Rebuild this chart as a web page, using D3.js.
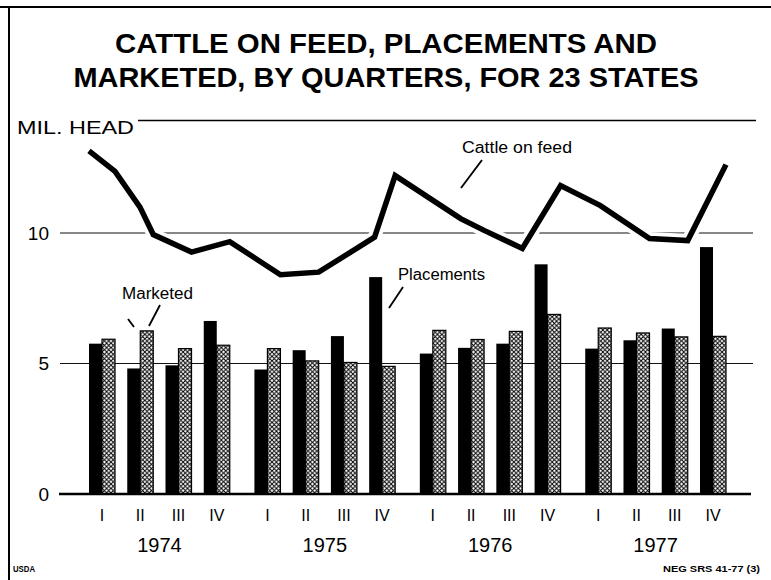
<!DOCTYPE html>
<html>
<head>
<meta charset="utf-8">
<script src="https://cdn.jsdelivr.net/npm/d3@7"></script>
<style>
  html, body { margin: 0; padding: 0; background: #fff; }
  svg { display: block; font-family: "Liberation Sans", Arial, Helvetica, sans-serif; }
</style>
</head>
<body>
<svg id="chart" width="771" height="580"></svg>
<script>
// ---------------- data ----------------
const years = ["1974", "1975", "1976", "1977"];
const quarters = ["I", "II", "III", "IV"];
const seriesKeys = ["Placements", "Marketed"];
// million head, by quarter (1974 I ... 1977 IV)
const placements = [5.76, 4.81, 4.93, 6.63, 4.77, 5.51, 6.05, 8.31, 5.38, 5.60, 5.76, 8.80, 5.57, 5.89, 6.34, 9.46];
const marketed   = [5.93, 6.25, 5.57, 5.70, 5.57, 5.10, 5.04, 4.89, 6.27, 5.92, 6.23, 6.88, 6.36, 6.17, 6.02, 6.04];
// cattle on feed line, read at its drawn vertices
const feedDates  = ["1974-01-01", "1974-03-31", "1974-05-15", "1974-06-30", "1974-09-30", "1974-12-31",
                    "1975-03-31", "1975-06-30", "1975-10-20", "1975-12-31",
                    "1976-04-10", "1976-06-30", "1976-09-30", "1976-12-31",
                    "1977-02-22", "1977-06-30", "1977-09-30", "1977-12-31"];
const feedValues = [13.15, 12.36, 10.99, 9.94, 9.27, 9.67,
                    8.40, 8.50, 9.84, 12.20,
                    10.55, 10.10, 9.41, 11.82,
                    11.05, 9.79, 9.71, 12.62];
const yTicks = [0, 5, 10];
const titleLines = ["CATTLE ON FEED, PLACEMENTS AND", "MARKETED, BY QUARTERS, FOR 23 STATES"];
const unitLabel = "MIL. HEAD";

// ---------------- build ----------------
const barData = years.flatMap((yr, i) => quarters.map((q, j) => ({
  year: yr, quarter: q, Placements: placements[i * 4 + j], Marketed: marketed[i * 4 + j]
})));
const feedData = feedDates.map((d, i) => ({ date: new Date(d + "T00:00:00"), value: feedValues[i] }));

const svg = d3.select("#chart");
const FONT = '"Liberation Sans", Arial, Helvetica, sans-serif';

// scales
const y = d3.scaleLinear().domain([0, 10]).range([494, 233]);
const xYear = d3.scaleBand().domain(years).range([89, 726]).paddingInner(0.149).paddingOuter(0);
const xQuarter = d3.scaleBand().domain(quarters).range([0, xYear.bandwidth()]).paddingInner(0.32).paddingOuter(0);
const xSeries = d3.scaleBand().domain(seriesKeys).range([0, xQuarter.bandwidth()]);

function xDate(d) {
  const yr = d.getFullYear();
  const qi = Math.floor(d.getMonth() / 3);
  const qs = new Date(yr, qi * 3, 1);
  const qe = new Date(yr, qi * 3 + 3, 0);
  const f = (d - qs) / (qe - qs);
  return xYear(String(yr)) + xQuarter(quarters[qi]) + f * xQuarter.bandwidth();
}

// pattern for marketed bars
const defs = svg.append("defs");
const pat = defs.append("pattern").attr("id", "xhatch")
  .attr("patternUnits", "userSpaceOnUse").attr("width", 4.4).attr("height", 4.4);
pat.append("rect").attr("width", 4.4).attr("height", 4.4).attr("fill", "#fff");
pat.append("path").attr("d", "M0,0L4.4,4.4M0,4.4L4.4,0").attr("stroke", "#000").attr("stroke-width", 1.0);

// frame
svg.append("line").attr("x1", 0).attr("x2", 771).attr("y1", 7).attr("y2", 7)
  .attr("stroke", "#000").attr("stroke-width", 2);
svg.append("line").attr("x1", 9).attr("x2", 9).attr("y1", 7).attr("y2", 580)
  .attr("stroke", "#000").attr("stroke-width", 2);

// title
const titleLens = [542, 625];
const titleY = [53, 87];
titleLines.forEach((t, i) => {
  svg.append("text").attr("x", 386).attr("y", titleY[i]).attr("text-anchor", "middle")
    .attr("font-size", 28).attr("font-weight", "bold").attr("fill", "#000")
    .attr("textLength", titleLens[i]).attr("lengthAdjust", "spacingAndGlyphs").text(t);
});

// unit label + header rule
svg.append("text").attr("x", 17).attr("y", 134).attr("font-size", 19).attr("fill", "#000")
  .attr("textLength", 117).attr("lengthAdjust", "spacingAndGlyphs").text(unitLabel);
svg.append("line").attr("x1", 138).attr("x2", 756).attr("y1", 120.5).attr("y2", 120.5)
  .attr("stroke", "#000").attr("stroke-width", 1.4);

// gridlines (non-zero)
svg.append("g").selectAll("line").data(yTicks.filter(d => d !== 0)).join("line")
  .attr("x1", 60).attr("x2", 753).attr("y1", d => y(d)).attr("y2", d => y(d))
  .attr("stroke", "#111").attr("stroke-width", 1.1);

// y axis labels
const yAxis = svg.append("g").attr("transform", "translate(60,0)")
  .call(d3.axisLeft(y).tickValues(yTicks).tickSize(0).tickPadding(11).tickFormat(d3.format("d")));
yAxis.select(".domain").remove();
yAxis.selectAll("text").attr("font-size", 19).attr("font-family", FONT).attr("fill", "#000");

// bars
const groups = svg.append("g").selectAll("g").data(barData).join("g")
  .attr("transform", d => `translate(${xYear(d.year) + xQuarter(d.quarter)},0)`);
groups.selectAll("rect").data(d => seriesKeys.map(k => ({ key: k, value: d[k] }))).join("rect")
  .attr("x", d => xSeries(d.key))
  .attr("width", xSeries.bandwidth())
  .attr("y", d => y(d.value))
  .attr("height", d => y(0) - y(d.value))
  .attr("fill", d => d.key === "Placements" ? "#000" : "url(#xhatch)")
  .attr("stroke", "#000")
  .attr("stroke-width", d => d.key === "Placements" ? 0 : 1.2);

// cattle on feed line
const line = d3.line().x(d => xDate(d.date)).y(d => y(d.value));
svg.append("path").datum(feedData).attr("d", line)
  .attr("fill", "none").attr("stroke", "#fff").attr("stroke-width", 13).attr("stroke-linejoin", "round");
svg.append("path").datum(feedData).attr("d", line)
  .attr("fill", "none").attr("stroke", "#000").attr("stroke-width", 5.5)
  .attr("stroke-linejoin", "miter").attr("stroke-miterlimit", 3);

// zero baseline
svg.append("line").attr("x1", 59).attr("x2", 751).attr("y1", y(0)).attr("y2", y(0))
  .attr("stroke", "#000").attr("stroke-width", 2.6);

// quarter labels
years.forEach(yr => {
  const g = svg.append("g").attr("transform", `translate(${xYear(yr)},${y(0)})`)
    .call(d3.axisBottom(xQuarter).tickSize(0));
  g.select(".domain").remove();
  g.selectAll("text").attr("y", 27).attr("dy", 0).attr("font-size", 16)
    .attr("font-family", FONT).attr("fill", "#000");
});
// year labels
const yrAxis = svg.append("g").attr("transform", `translate(0,${y(0)})`)
  .call(d3.axisBottom(xYear).tickSize(0));
yrAxis.select(".domain").remove();
yrAxis.selectAll("text").attr("y", 58).attr("dy", 0).attr("font-size", 20)
  .attr("font-family", FONT).attr("fill", "#000");

// annotations
function note(txt, x, yy, len) {
  svg.append("text").attr("x", x).attr("y", yy).attr("font-size", 16).attr("fill", "#000")
    .attr("textLength", len).attr("lengthAdjust", "spacingAndGlyphs").text(txt);
}
function pointer(x1, y1, x2, y2) {
  svg.append("line").attr("x1", x1).attr("y1", y1).attr("x2", x2).attr("y2", y2)
    .attr("stroke", "#000").attr("stroke-width", 1.8);
}
note("Cattle on feed", 462, 153, 110);
pointer(482, 160, 461, 188);
note("Placements", 398, 280, 87);
pointer(403, 287, 389, 308);
note(seriesKeys[1], 122, 299, 71);
pointer(160, 305, 149, 326);
pointer(128, 319, 134, 327);

// footer
svg.append("text").attr("x", 13).attr("y", 572).attr("font-size", 9).attr("font-weight", "bold")
  .attr("textLength", 22).attr("lengthAdjust", "spacingAndGlyphs").text("USDA");
svg.append("text").attr("x", 663).attr("y", 572).attr("font-size", 9).attr("font-weight", "bold")
  .attr("textLength", 97).attr("lengthAdjust", "spacingAndGlyphs").text("NEG SRS 41-77 (3)");
</script>
</body>
</html>
